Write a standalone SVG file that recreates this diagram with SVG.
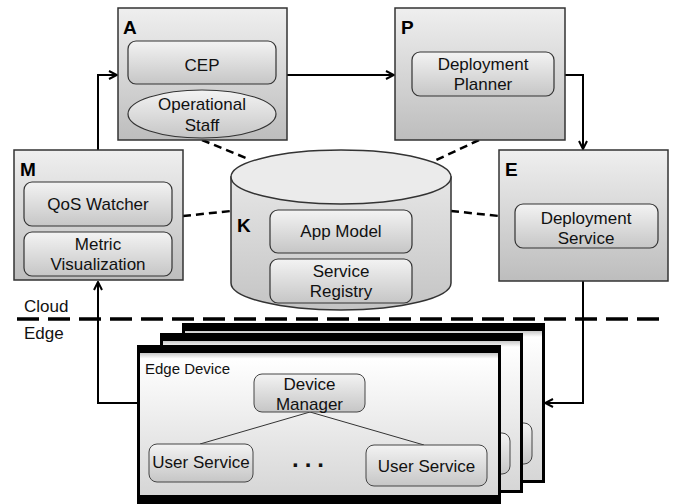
<svg xmlns="http://www.w3.org/2000/svg" width="676" height="504" viewBox="0 0 676 504">
<defs>
<linearGradient id="gBig" x1="0" y1="0" x2="0" y2="1"><stop offset="0" stop-color="#efefef"/><stop offset="1" stop-color="#bdbdbd"/></linearGradient>
<linearGradient id="gIn" x1="0" y1="0" x2="0" y2="1"><stop offset="0" stop-color="#f3f3f3"/><stop offset="1" stop-color="#c6c6c6"/></linearGradient>
<linearGradient id="gCyl" x1="0" y1="0" x2="0" y2="1"><stop offset="0" stop-color="#e6e6e6"/><stop offset="1" stop-color="#c4c4c4"/></linearGradient>
<linearGradient id="gCard" x1="0" y1="0" x2="0" y2="1"><stop offset="0" stop-color="#c8c8c8"/><stop offset="0.04" stop-color="#ffffff"/><stop offset="1" stop-color="#d6d6d6"/></linearGradient>
<marker id="arr" viewBox="0 0 10 10" refX="9" refY="5" markerWidth="10" markerHeight="10" markerUnits="userSpaceOnUse" orient="auto"><path d="M1,1 L9,5 L1,9" fill="none" stroke="#000" stroke-width="2"/></marker>
<style>
.big{fill:url(#gBig);stroke:#333;stroke-width:1.5}
.in{fill:url(#gIn);stroke:#333;stroke-width:1.2}
.t{font-family:"Liberation Sans",Arial,sans-serif;font-size:17px;fill:#111;text-anchor:middle}
.L{font-family:"Liberation Sans",Arial,sans-serif;font-size:19px;font-weight:bold;fill:#000}
.s{font-family:"Liberation Sans",Arial,sans-serif;fill:#111}
.con{fill:none;stroke:#000;stroke-width:2}
.dash{fill:none;stroke:#000;stroke-width:2.5;stroke-dasharray:8 5}
.card{fill:#000}
.cin{fill:url(#gCard)}
.us{fill:url(#gIn);stroke:#444;stroke-width:1}
</style>
</defs>

<g id="connectors">
<path class="dash" d="M202,140 L246,158"/>
<path class="dash" d="M479,140 L432,162"/>
<path class="dash" d="M183,216 L231,211"/>
<path class="dash" d="M451,211 L499,216"/>
<path class="con" d="M98,150 L98,75 L117,75" marker-end="url(#arr)"/>
<path class="con" d="M287,75 L394,75" marker-end="url(#arr)"/>
<path class="con" d="M565,75 L583,75 L583,149" marker-end="url(#arr)"/>
<path class="con" d="M583,281 L583,403 L545,403" marker-end="url(#arr)"/>
<path class="con" d="M137,403 L98,403 L98,282" marker-end="url(#arr)"/>
</g>

<g id="divider">
<path d="M17,319 L668,319" fill="none" stroke="#000" stroke-width="3.5" stroke-dasharray="22 9"/>
<text class="s" x="24" y="312" font-size="17">Cloud</text>
<text class="s" x="24" y="339" font-size="17">Edge</text>
</g>

<g id="A">
<rect class="big" x="118" y="8" width="169" height="132"/>
<text class="L" x="123" y="34">A</text>
<rect class="in" x="128" y="41" width="148" height="43" rx="8"/>
<text class="t" x="202" y="71">CEP</text>
<ellipse class="in" cx="202" cy="114" rx="74" ry="24"/>
<text class="t" x="202" y="110">Operational</text>
<text class="t" x="202" y="131">Staff</text>
</g>

<g id="P">
<rect class="big" x="395" y="8" width="170" height="132"/>
<text class="L" x="401" y="34">P</text>
<rect class="in" x="412" y="52" width="142" height="44" rx="8"/>
<text class="t" x="483" y="70">Deployment</text>
<text class="t" x="483" y="90">Planner</text>
</g>

<g id="M">
<rect class="big" x="14" y="150" width="169" height="130"/>
<text class="L" x="20" y="176">M</text>
<rect class="in" x="24" y="182" width="148" height="44" rx="8"/>
<text class="t" x="98" y="210">QoS Watcher</text>
<rect class="in" x="24" y="232" width="148" height="44" rx="8"/>
<text class="t" x="98" y="250">Metric</text>
<text class="t" x="98" y="270">Visualization</text>
</g>

<g id="E">
<rect class="big" x="499" y="150" width="169" height="131"/>
<text class="L" x="505" y="176">E</text>
<rect class="in" x="515" y="204" width="143" height="44" rx="8"/>
<text class="t" x="586" y="224">Deployment</text>
<text class="t" x="586" y="244">Service</text>
</g>

<g id="K">
<path d="M231,177 L231,283 A110,27 0 0 0 451,283 L451,177 Z" fill="url(#gCyl)" stroke="#333" stroke-width="1.5"/>
<ellipse cx="341" cy="177" rx="110" ry="27" fill="#ebebeb" stroke="#333" stroke-width="1.5"/>
<text class="L" x="237" y="232">K</text>
<rect class="in" x="270" y="210" width="142" height="43" rx="8"/>
<text class="t" x="341" y="237">App Model</text>
<rect class="in" x="270" y="259" width="142" height="44" rx="8"/>
<text class="t" x="341" y="277">Service</text>
<text class="t" x="341" y="297">Registry</text>
</g>

<g id="edge-device-back">
<rect class="card" x="182" y="323" width="363" height="160"/>
<rect class="cin" x="185" y="331" width="357" height="149"/>
<rect class="us" x="411" y="423" width="121" height="41" rx="8"/>
</g>

<g id="edge-device-middle">
<rect class="card" x="160" y="333" width="363" height="160"/>
<rect class="cin" x="163" y="341" width="357" height="149"/>
<rect class="us" x="389" y="433" width="121" height="41" rx="8"/>
</g>

<g id="edge-device">
<rect class="card" x="137" y="345" width="364" height="165"/>
<rect class="cin" x="140" y="353" width="358" height="142"/>
<text class="s" x="145" y="374" font-size="15">Edge Device</text>
<path d="M310,412 L200,444 M310,412 L424,445" stroke="#333" stroke-width="1" fill="none"/>
<rect class="us" x="254" y="374" width="111" height="38" rx="8"/>
<text class="t" x="309.5" y="390" font-size="16">Device</text>
<text class="t" x="309.5" y="410" font-size="16">Manager</text>
<rect class="us" x="149" y="444" width="104" height="38" rx="8"/>
<text class="t" x="201" y="468" font-size="15">User Service</text>
<rect class="us" x="366" y="445" width="121" height="41" rx="8"/>
<text class="t" x="426.5" y="472" font-size="17.5">User Service</text>
<text class="s" x="292" y="467" font-size="24" font-weight="bold" letter-spacing="6">...</text>
</g>
</svg>
